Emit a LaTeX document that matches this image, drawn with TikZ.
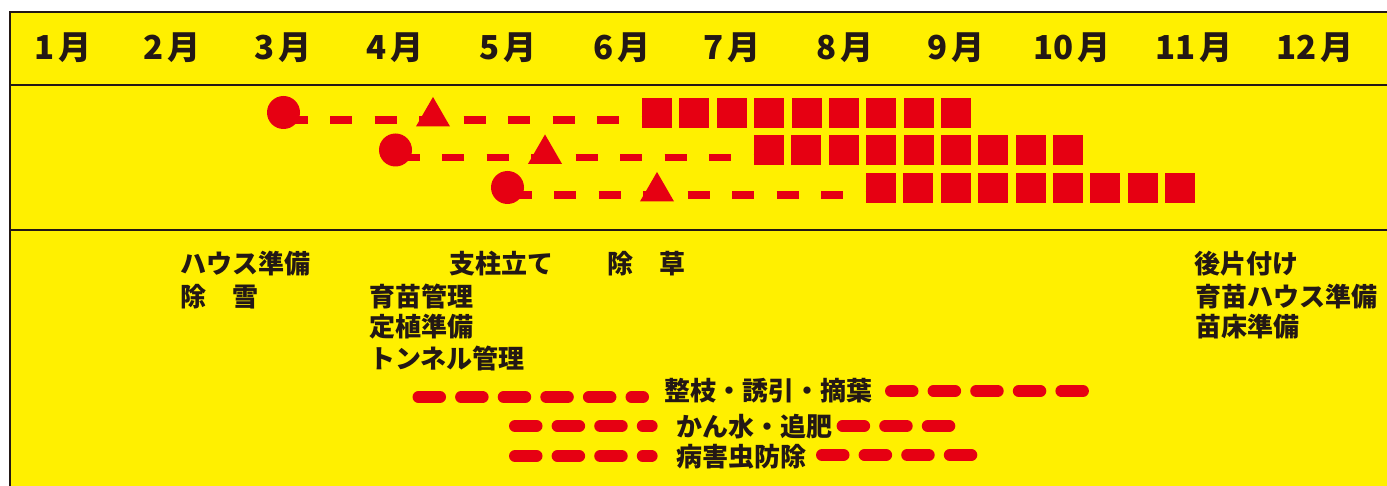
\documentclass[tikz,border=0pt]{standalone}
\usepackage{fontspec}
\setmainfont{Noto Sans CJK JP}
\usetikzlibrary{shapes.geometric}
\definecolor{bgyellow}{RGB}{255,240,0}
\definecolor{mred}{RGB}{230,0,18}
\definecolor{ink}{RGB}{35,24,21}
\begin{document}
\begin{tikzpicture}[x=1pt,y=-1pt,
  frameline/.style={draw=ink,line width=2.5pt},
  month/.style={anchor=base,font=\fontsize{33}{33}\selectfont\bfseries,text=ink,inner sep=0pt},
  task/.style={anchor=base west,font=\fontsize{26}{26}\selectfont\bfseries,text=ink,inner sep=0pt},
  startmark/.style={circle,fill=mred,minimum size=33pt,inner sep=0pt},
  budmark/.style={regular polygon,regular polygon sides=3,fill=mred,minimum size=39.3pt,inner sep=0pt},
  harvest/.style={rectangle,fill=mred,minimum size=30pt,inner sep=0pt},
  plandash/.style={draw=mred,line width=7.5pt,dash pattern=on 22.25pt off 22.25pt},
  workdash/.style={draw=mred,line width=12pt,line cap=round,dash pattern=on 21.5pt off 21.1pt},
]
\useasboundingbox (0,0) rectangle (1387,486);
% background and frame
\fill[white] (0,0) rectangle (1387,486);
\fill[bgyellow] (10,12) rectangle (1400,500);
\draw[frameline] (1400,12) -- (10,12) -- (10,500);
\draw[frameline] (10,85) -- (1400,85);
\draw[frameline] (10,230) -- (1400,230);
% months
\foreach \x/\m [count=\i] in {63/1,172/2,283/3,395/4,508/5,622/6,732/7,845/8,956/9,1072/10,1194/11,1315/12}
  \node[month] (m\i) at (\x,59.5) {\m\hspace{4pt}月};
% schedule rows
\foreach \r in {0,1,2} {
  \pgfmathsetmacro{\cx}{283.5+112*\r}
  \pgfmathsetmacro{\cy}{113+37.5*\r}
  \pgfmathsetmacro{\sx}{657+112*\r}
  \foreach \k in {0,...,8} {
    \node[harvest] (sq\r\k) at ({\sx+37.4*\k},\cy) {};
  }
  \coordinate (d\r) at ({\cx+2},{\cy+7});
  \draw[plandash] (d\r) -- (d\r -| sq\r0.west);
  \node[startmark] (c\r) at (\cx,{\cy-0.5}) {};
  \node[budmark] (t\r) at ({\cx+149.5},{\cy+3.6}) {};
}
% tasks
\node[task] (haus) at (180,274) {ハウス準備};
\node[task] (josetsu) at (180,306.5) {除　雪};
\node[task] (shichu) at (449,274) {支柱立て};
\node[task] (josou) at (607,274) {除　草};
\node[task] (ikubyo) at (369,306.5) {育苗管理};
\node[task] (teishoku) at (369,337) {定植準備};
\node[task] (tunnel) at (369,368) {トンネル管理};
\node[task] (atokata) at (1194,274) {後片付け};
\node[task] (ikubyohaus) at (1195,306.5) {育苗ハウス準備};
\node[task] (naedoko) at (1195,337) {苗床準備};
% work periods
\node[task,anchor=base] (seishi) at (768,400) {整枝・誘引・摘葉};
\node[task,anchor=base] (kansui) at (754,436) {かん水・追肥};
\node[task,anchor=base] (byogai) at (741,466) {病害虫防除};
\coordinate (w1a) at (418.5,397); \coordinate (w1b) at (643,397);
\coordinate (w1c) at (891,391);   \coordinate (w1d) at (1084,391);
\coordinate (w2a) at (515,426);   \coordinate (w2b) at (651.6,426);
\coordinate (w2c) at (842.6,426); \coordinate (w2d) at (950,426);
\coordinate (w3a) at (515,456);   \coordinate (w3b) at (651.6,456);
\coordinate (w3c) at (822,455);   \coordinate (w3d) at (972,455);
\draw[workdash] (w1a) -- (w1b);
\draw[workdash] (w1c) -- (w1d);
\draw[workdash] (w2a) -- (w2b);
\draw[workdash] (w2c) -- (w2d);
\draw[workdash] (w3a) -- (w3b);
\draw[workdash] (w3c) -- (w3d);
\end{tikzpicture}
\end{document}
